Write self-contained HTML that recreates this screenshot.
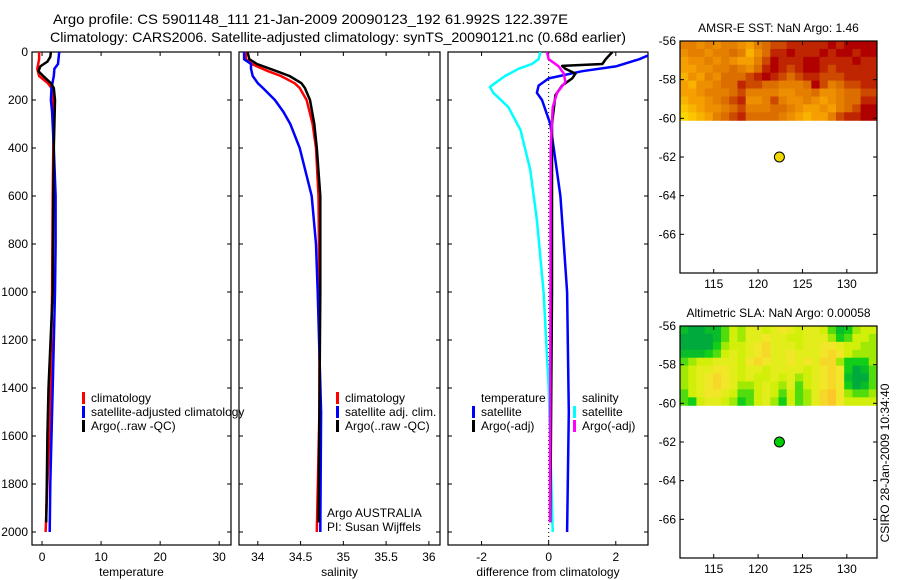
<!DOCTYPE html>
<html><head><meta charset="utf-8">
<style>
html,body{margin:0;padding:0;background:#fff;}
svg{display:block;font-family:"Liberation Sans",sans-serif;}
text{font-size:12px;fill:#000;}
</style></head>
<body>
<svg id="chart" width="900" height="580" viewBox="0 0 900 580">
<text x="53" y="24" textLength="515" lengthAdjust="spacingAndGlyphs" style="font-size:14px">Argo profile: CS 5901148_111 21-Jan-2009 20090123_192 61.992S 122.397E</text>
<text x="50" y="42" textLength="576" lengthAdjust="spacingAndGlyphs" style="font-size:14px">Climatology: CARS2006. Satellite-adjusted climatology: synTS_20090121.nc (0.68d earlier)</text>
<text x="889" y="463" text-anchor="middle" transform="rotate(-90 889 463)">CSIRO 28-Jan-2009 10:34:40</text>
</svg>
<script>
// ---- data ----
const depthTicks=[0,200,400,600,800,1000,1200,1400,1600,1800,2000];
const tempTicks=[0,10,20,30];
const salTicks=[34,34.5,35,35.5,36];
const diffTicks=[-2,0,2];
const latTicks=[-56,-58,-60,-62,-64,-66];
const lonTicks=[115,120,125,130];

const tClimDepth=[0,30,70,100,130,150,200,400,600,1000,1500,1800,2000];
const tClimVal=[-0.5,-0.5,-0.8,-0.5,1.0,1.6,1.9,1.9,1.8,1.7,1.4,0.9,0.6];
const tSatDepth=[0,50,70,100,150,200,250,400,600,800,1000,1400,1600,1800,2000];
const tSatVal=[2.9,2.7,2.1,2.0,1.6,1.5,1.7,2.0,2.3,2.3,2.2,1.8,1.6,1.4,1.3];
const tArgoDepth=[0,20,40,60,80,100,130,150,200,400,600,1000,1400,1600,1800,1960];
const tArgoVal=[1.5,1.4,0.9,-0.3,-0.6,0.2,1.5,2.0,2.2,2.0,1.9,1.8,1.1,0.9,0.8,0.7];

const sClimDepth=[0,30,50,80,100,130,150,200,300,400,600,1000,1500,2000];
const sClimVal=[33.86,33.86,33.93,34.12,34.27,34.43,34.49,34.57,34.64,34.68,34.71,34.72,34.72,34.69];
const sSatDepth=[0,30,50,70,100,130,150,200,250,300,400,500,600,800,1000,1500,2000];
const sSatVal=[33.84,33.84,33.92,33.92,33.94,34.0,34.06,34.2,34.3,34.38,34.49,34.56,34.63,34.68,34.70,34.74,34.73];
const sArgoDepth=[0,30,50,80,100,130,150,200,300,400,600,1000,1500,1960];
const sArgoVal=[33.88,33.9,33.99,34.22,34.37,34.51,34.55,34.61,34.66,34.69,34.73,34.73,34.72,34.71];

const dTSatDepth=[0,30,60,80,110,140,170,200,300,400,600,800,1000,1500,2000];
const dTSatVal=[3.2,2.7,2.0,1.0,0.0,-0.3,-0.35,-0.2,0.05,0.15,0.35,0.45,0.55,0.6,0.55];
const dTArgoDepth=[0,30,50,58,70,90,110,140,180,300,1000,1960];
const dTArgoVal=[1.9,1.7,1.6,0.4,0.5,0.8,0.7,0.4,0.2,0.1,0.1,0.05];
const dSSatDepth=[0,30,50,70,100,130,146,170,230,325,490,700,1000,1400,2000];
const dSSatVal=[-0.25,-0.3,-0.5,-0.9,-1.3,-1.6,-1.75,-1.65,-1.2,-0.84,-0.55,-0.35,-0.15,0.0,0.12];
const dSArgoDepth=[0,30,60,90,125,170,230,400,1960];
const dSArgoVal=[-0.05,0.0,0.3,0.45,0.5,0.25,0.12,0.06,0.04];

const sstGrid=[
"554545543567788888989999",
"455455652468898889899899",
"344545433579888998888988",
"334455654689878998788888",
"243546667898767887778888",
"324456687766555697567788",
"334555675555445564456677",
"233456784457544543456688",
"123445675556654334356799",
"012356786666543233578899"];
const slaGrid=[
"100113546656765665312455",
"000013546676655666423554",
"000024556786665667765544",
"111235656786676667875444",
"345566657876676768842224",
"456677656656666567872013",
"456787656556564567871003",
"456787644565463567872013",
"356776533565353468974334",
"325665423564253468975555"];
const argoLon=[122.4];
const argoLat=[-62.0];

// ---- drawing ----
const svg=document.getElementById('chart');
const NS='http://www.w3.org/2000/svg';
function el(tag,attrs,parent){const e=document.createElementNS(NS,tag);for(const k in attrs)e.setAttribute(k,attrs[k]);(parent||svg).appendChild(e);return e;}
function txt(x,y,s,anchor,parent){const t=el('text',{x:x,y:y,'text-anchor':anchor||'start'},parent);t.textContent=s;return t;}

const Y0=52, Ybot=545, pxPerM=0.24;
function yD(d){return Y0+d*pxPerM;}
const panels=[
 {name:'temperature',x0:32,x1:231,v0:-1.7,v1:32.0,ticks:tempTicks,label:'temperature'},
 {name:'salinity',x0:239,x1:440,v0:33.78,v1:36.13,ticks:salTicks,label:'salinity'},
 {name:'difference',x0:448,x1:648,v0:-3.0,v1:2.96,ticks:diffTicks,label:'difference from climatology'}
];
panels.forEach((p,i)=>{p.sx=v=>p.x0+(v-p.v0)/(p.v1-p.v0)*(p.x1-p.x0);});

function drawProfile(p,depths,vals,color,name){
  const g=el('g',{'clip-path':'url(#clip-'+p.name+')'});
  
  
  const pts=depths.map((d,i)=>p.sx(vals[i]).toFixed(1)+','+yD(d).toFixed(1)).join(' ');
  const pl=el('polyline',{points:pts,fill:'none',stroke:color,'stroke-width':2.5,'stroke-linejoin':'round'},g);
  
  
}

const defs=el('defs',{});
panels.forEach((p,idx)=>{
  const cp=el('clipPath',{id:'clip-'+p.name},defs);
  el('rect',{x:p.x0,y:Y0,width:p.x1-p.x0,height:Ybot-Y0},cp);
  const g=el('g',{});
  
  
  const fr=el('rect',{x:p.x0,y:Y0,width:p.x1-p.x0,height:Ybot-Y0,fill:'none',stroke:'#000','stroke-width':1.2},g);
  
  
  depthTicks.forEach(d=>{
    el('line',{x1:p.x0,x2:p.x0+4,y1:yD(d),y2:yD(d),stroke:'#000'},g);
    el('line',{x1:p.x1,x2:p.x1-4,y1:yD(d),y2:yD(d),stroke:'#000'},g);
    if(idx===0){const t=txt(28,yD(d)+4,String(d),'end',g);
      
      }
  });
  p.ticks.forEach(v=>{
    const x=p.sx(v);
    el('line',{x1:x,x2:x,y1:Ybot,y2:Ybot-4,stroke:'#000'},g);
    el('line',{x1:x,x2:x,y1:Y0,y2:Y0+4,stroke:'#000'},g);
    const t=txt(x,561,String(v),'middle',g);
    
    
  });
  const xl=txt((p.x0+p.x1)/2,576,p.label,'middle',g);
  
  
});

// zero line in diff panel
const zl=el('line',{x1:panels[2].sx(0),x2:panels[2].sx(0),y1:Y0,y2:Ybot,stroke:'#000','stroke-dasharray':'1,3'});



drawProfile(panels[0],tClimDepth,tClimVal,'#ff0000','temp-climatology');
drawProfile(panels[0],tSatDepth,tSatVal,'#0000ff','temp-satellite-adjusted');
drawProfile(panels[0],tArgoDepth,tArgoVal,'#000000','temp-argo');
drawProfile(panels[1],sClimDepth,sClimVal,'#ff0000','sal-climatology');
drawProfile(panels[1],sSatDepth,sSatVal,'#0000ff','sal-satellite-adjusted');
drawProfile(panels[1],sArgoDepth,sArgoVal,'#000000','sal-argo');
drawProfile(panels[2],dSSatDepth,dSSatVal,'#00ffff','diff-sal-satellite');
drawProfile(panels[2],dTSatDepth,dTSatVal,'#0000ff','diff-temp-satellite');
drawProfile(panels[2],dTArgoDepth,dTArgoVal,'#000000','diff-temp-argo');
drawProfile(panels[2],dSArgoDepth,dSArgoVal,'#ff00ff','diff-sal-argo');

function legend(x,y,color,label,name){
  const g=el('g',{});
  
  
  el('rect',{x:x,y:y-10,width:3,height:12,fill:color},g);
  txt(x+9,y,label,'start',g);
}
legend(82,402,'#ff0000','climatology','legend-temp-climatology');
legend(82,416,'#0000ff','satellite-adjusted climatology','legend-temp-satellite');
legend(82,430,'#000000','Argo(..raw -QC)','legend-temp-argo');
legend(336,402,'#ff0000','climatology','legend-sal-climatology');
legend(336,416,'#0000ff','satellite adj. clim.','legend-sal-satellite');
legend(336,430,'#000000','Argo(..raw -QC)','legend-sal-argo');
const lt=txt(481,402,'temperature','start');
const ls=txt(582,402,'salinity','start');
legend(472,416,'#0000ff','satellite','legend-diff-temp-satellite');
legend(472,430,'#000000','Argo(-adj)','legend-diff-temp-argo');
legend(573,416,'#00ffff','satellite','legend-diff-sal-satellite');
legend(573,430,'#ff00ff','Argo(-adj)','legend-diff-sal-argo');
const a1=txt(327,517,'Argo AUSTRALIA');
const a2=txt(327,531,'PI: Susan Wijffels');

// ---- maps ----
function lerp(a,b,t){return a.map((v,i)=>Math.round(v+(b[i]-v)*t));}
function ramp(stops,v){const n=stops.length-1;const f=Math.max(0,Math.min(1,v/9))*n;const i=Math.min(n-1,Math.floor(f));const c=lerp(stops[i],stops[i+1],f-i);return 'rgb('+c.join(',')+')';}
const sstStops=[[255,215,0],[245,160,0],[220,110,0],[176,0,0]];
const slaStops=[[0,170,60],[20,210,20],[200,240,0],[240,235,40],[250,200,40]];

function drawMap(y0,title,grid,stops,dotColor,name){
  const x0=680,x1=877,y1=y0+232;
  const lonMin=111.2,lonMax=133.4,latTop=-56,latBot=-68;
  const sx=lon=>x0+(lon-lonMin)/(lonMax-lonMin)*(x1-x0);
  const sy=lat=>y0+(latTop-lat)/(latTop-latBot)*(y1-y0);
  const g=el('g',{});
  
  
  const rows=grid.length, cols=grid[0].length;
  const hy0=sy(-56), hy1=sy(-60.1);
  const cw=(x1-x0)/cols, ch=(hy1-hy0)/rows;
  grid.forEach((row,r)=>{
    for(let c=0;c<cols;c++){
      const cell=el('rect',{x:(x0+c*cw).toFixed(2),y:(hy0+r*ch).toFixed(2),width:(cw+0.5).toFixed(2),height:(ch+0.5).toFixed(2),fill:ramp(stops,+row[c])},g);
      
      
    }
  });
  const fr=el('rect',{x:x0,y:y0,width:x1-x0,height:y1-y0,fill:'none',stroke:'#000','stroke-width':1.2},g);
  
  
  latTicks.forEach(l=>{
    el('line',{x1:x0,x2:x0+4,y1:sy(l),y2:sy(l),stroke:'#000'},g);
    el('line',{x1:x1,x2:x1-4,y1:sy(l),y2:sy(l),stroke:'#000'},g);
    const t=txt(676,sy(l)+4,String(l),'end',g);
    
    
  });
  lonTicks.forEach(l=>{
    el('line',{x1:sx(l),x2:sx(l),y1:y1,y2:y1-4,stroke:'#000'},g);
    el('line',{x1:sx(l),x2:sx(l),y1:y0,y2:y0+4,stroke:'#000'},g);
    const t=txt(sx(l),y1+15,String(l),'middle',g);
    
    
  });
  const tt=txt((x0+x1)/2,y0-9,title,'middle',g);
  
  
  argoLon.forEach((lon,i)=>{
    const d=el('circle',{cx:sx(lon),cy:sy(argoLat[i]),r:5,fill:dotColor,stroke:'#000','stroke-width':1},g);
    
    
  });
}
drawMap(41,'AMSR-E SST: NaN Argo: 1.46',sstGrid,sstStops,'#f0d800','sst-map');
drawMap(326,'Altimetric SLA: NaN Argo: 0.00058',slaGrid,slaStops,'#00d000','sla-map');
</script>
</body></html>
